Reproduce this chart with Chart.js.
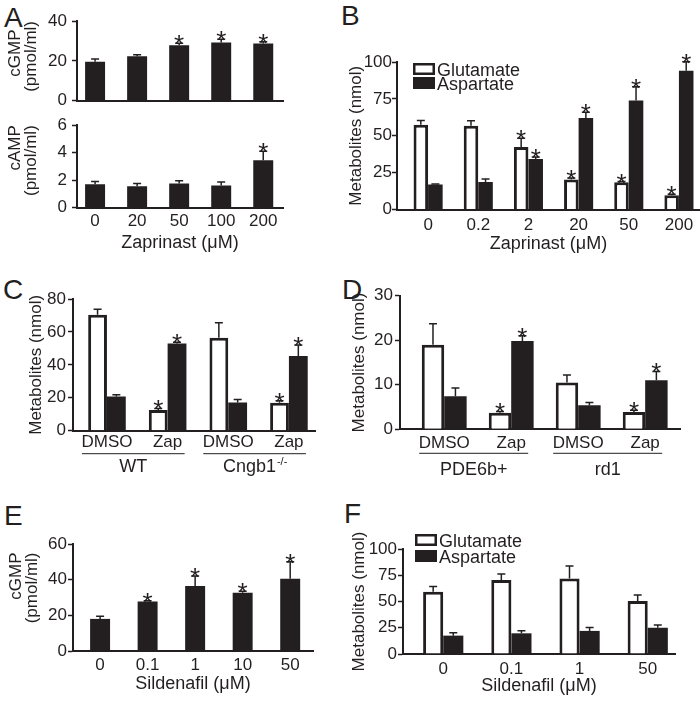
<!DOCTYPE html>
<html>
<head>
<meta charset="utf-8">
<script src="https://cdn.jsdelivr.net/npm/chart.js@4.4.1/dist/chart.umd.min.js"></script>
<style>
  html, body { margin: 0; padding: 0; background: #fff; }
  body { width: 700px; height: 703px; position: relative; overflow: hidden; font-family: "Liberation Sans", Arial, sans-serif; }
  canvas { position: absolute; }
  .lbl { position: absolute; font-size: 28px; line-height: 28px; color: #231f20; }
</style>
</head>
<body>
<div class="lbl" style="left:4px;top:4px">A</div>
<div class="lbl" style="left:341px;top:2px">B</div>
<div class="lbl" style="left:3px;top:276px">C</div>
<div class="lbl" style="left:342px;top:276px">D</div>
<div class="lbl" style="left:4px;top:502px">E</div>
<div class="lbl" style="left:344px;top:500px">F</div>

<canvas id="cgmpA" width="290" height="116" style="left:0;top:0"></canvas>
<canvas id="campA" width="290" height="145" style="left:0;top:110px"></canvas>
<canvas id="metB" width="360" height="215" style="left:340px;top:40px"></canvas>
<canvas id="metC" width="320" height="200" style="left:0;top:285px"></canvas>
<canvas id="metD" width="360" height="200" style="left:340px;top:280px"></canvas>
<canvas id="cgmpE" width="320" height="173" style="left:0;top:530px"></canvas>
<canvas id="metF" width="360" height="183" style="left:340px;top:520px"></canvas>

<script>
const ink = '#231f20';

// A: zaprinast, cGMP / cAMP
const doseA = ['0', '20', '50', '100', '200'];
const cgmpA = [19.6, 22.3, 27.9, 29.2, 28.7];
const cgmpErrA = [1.4, 0.8, 0.9, 1.6, 0.9];
const cgmpStarA = [0, 0, 1, 1, 1];
const campA = [1.7, 1.55, 1.75, 1.6, 3.45];
const campErrA = [0.2, 0.2, 0.2, 0.25, 0.65];
const campStarA = [0, 0, 0, 0, 1];

// B: zaprinast, metabolites
const doseB = ['0', '0.2', '2', '20', '50', '200'];
const gluB = [57.4, 56.8, 42.3, 20.3, 18.5, 9.7];
const gluErrB = [3, 3.3, 6, 1.1, 0.4, 0.7];
const gluStarB = [0, 0, 1, 1, 1, 1];
const aspB = [16.9, 18.7, 34.2, 62, 73.9, 94.1];
const aspErrB = [0.4, 2, 1.4, 4, 9.4, 6.1];
const aspStarB = [0, 0, 1, 1, 1, 1];

// C: WT vs Cngb1-/-
const treatC = ['DMSO', 'Zap', 'DMSO', 'Zap'];
const gluC = [70.5, 12.5, 56.5, 17];
const gluErrC = [3.2, 1, 9, 1.2];
const aspC = [20.8, 53, 17.2, 45.4];
const aspErrC = [1, 0.8, 1.8, 6.6];
const starC = [0, 1, 0, 1];

// D: PDE6b+ vs rd1
const treatD = ['DMSO', 'Zap', 'DMSO', 'Zap'];
const gluD = [19, 3.7, 10.5, 3.9];
const gluErrD = [4.7, 0.3, 1.7, 0.4];
const aspD = [7.4, 19.8, 5.4, 11];
const aspErrD = [1.9, 1.2, 0.6, 2];
const starD = [0, 1, 0, 1];

// E: sildenafil, cGMP
const doseE = ['0', '0.1', '1', '10', '50'];
const cgmpE = [18, 27.8, 36.4, 32.6, 40.5];
const cgmpErrE = [1.5, 0.4, 5.6, 0.9, 9.5];
const cgmpStarE = [0, 1, 1, 1, 1];

// F: sildenafil, metabolites
const doseF = ['0', '0.1', '1', '50'];
const gluF = [59.4, 70.5, 72, 50.5];
const gluErrF = [4.8, 5.7, 11.7, 5.7];
const aspF = [17.5, 19.7, 22, 25];
const aspErrF = [2.8, 2.5, 3.2, 2.6];
const noStar = [0, 0, 0, 0];

Chart.defaults.font.family = '"Liberation Sans", Arial, sans-serif';
Chart.defaults.font.size = 17;
Chart.defaults.color = ink;
Chart.defaults.animation = false;

const toPoints = (vals) => vals.map((v, i) => ({ x: i, y: v }));

const bars = (label, vals, errs, stars, open) => ({
  label: label,
  data: toPoints(vals),
  errors: errs,
  stars: stars,
  open: open,
  backgroundColor: open ? '#ffffff' : ink,
  borderColor: ink,
  borderWidth: open ? 3 : 0,
  barPercentage: 1
});

// error bars, asterisks, legend boxes and group labels
const decor = {
  id: 'decor',
  afterDatasetsDraw(chart, args, opts) {
    const { ctx, chartArea } = chart;
    const ys = chart.scales.y;
    const xs = chart.scales.x;
    ctx.save();
    chart.data.datasets.forEach((ds, di) => {
      chart.getDatasetMeta(di).data.forEach((bar, i) => {
        const top = ys.getPixelForValue(ds.data[i].y + ds.errors[i]);
        ctx.strokeStyle = ink;
        ctx.lineWidth = 1.5;
        ctx.beginPath();
        ctx.moveTo(bar.x, bar.y);
        ctx.lineTo(bar.x, top);
        ctx.moveTo(bar.x - 4, top);
        ctx.lineTo(bar.x + 4, top);
        ctx.stroke();
        if (ds.stars[i]) {
          ctx.fillStyle = ink;
          ctx.font = '26px "Liberation Sans", Arial, sans-serif';
          ctx.textAlign = 'center';
          ctx.textBaseline = 'alphabetic';
          ctx.fillText('*', bar.x, top + 10);
        }
      });
    });

    if (opts.legend) {
      const lg = opts.legend;
      chart.data.datasets.forEach((ds, k) => {
        const x = chartArea.left + lg.dx;
        const y = chartArea.top + lg.dy + k * lg.row;
        if (ds.open) {
          ctx.fillStyle = '#fff';
          ctx.fillRect(x, y, 22, 12);
          ctx.strokeStyle = ink;
          ctx.lineWidth = 2.5;
          ctx.strokeRect(x + 1.25, y + 1.25, 19.5, 9.5);
        } else {
          ctx.fillStyle = ink;
          ctx.fillRect(x, y, 22, 12);
        }
        ctx.fillStyle = ink;
        ctx.font = '18px "Liberation Sans", Arial, sans-serif';
        ctx.textAlign = 'left';
        ctx.textBaseline = 'alphabetic';
        ctx.fillText(ds.label, x + 24, y + 12.5);
      });
    }

    if (opts.groups) {
      opts.groups.forEach((g) => {
        const x1 = xs.getPixelForValue(g.from) - 25;
        const x2 = xs.getPixelForValue(g.to) + 17;
        const ly = chartArea.bottom + opts.lineDy;
        ctx.strokeStyle = ink;
        ctx.lineWidth = 1;
        ctx.beginPath();
        ctx.moveTo(x1, ly);
        ctx.lineTo(x2, ly);
        ctx.stroke();
        ctx.fillStyle = ink;
        ctx.textBaseline = 'alphabetic';
        ctx.textAlign = 'left';
        ctx.font = '18px "Liberation Sans", Arial, sans-serif';
        const w1 = ctx.measureText(g.name).width;
        ctx.font = '11px "Liberation Sans", Arial, sans-serif';
        const w2 = g.sup ? ctx.measureText(g.sup).width : 0;
        const sx = (x1 + x2) / 2 - (w1 + w2) / 2;
        const by = chartArea.bottom + opts.labelDy;
        ctx.font = '18px "Liberation Sans", Arial, sans-serif';
        ctx.fillText(g.name, sx, by);
        if (g.sup) {
          ctx.font = '11px "Liberation Sans", Arial, sans-serif';
          ctx.fillText(g.sup, sx + w1 + 1, by - 7);
        }
      });
    }
    ctx.restore();
  }
};

const makeChart = (id, p) => {
  const xScale = {
    type: 'linear',
    min: p.xMin,
    max: p.xMax,
    offset: false,
    z: 1,
    grid: { display: false, drawTicks: false, offset: false },
    border: { display: true, color: ink, width: 2 },
    afterBuildTicks: (s) => { s.ticks = p.labels.map((_, i) => ({ value: i })); },
    afterFit: (s) => { s.height = p.xAxisH; },
    ticks: {
      display: p.labels.length > 0 && p.showX !== false,
      autoSkip: false,
      maxRotation: 0,
      padding: p.xTickPad,
      font: { size: 17 },
      callback: (v) => p.labels[v]
    },
    title: {
      display: !!p.xTitle,
      text: p.xTitle || '',
      font: { size: 18, lineHeight: 1 },
      padding: { top: 0, bottom: p.xTitlePad || 0 }
    }
  };
  const yScale = {
    min: 0,
    max: p.yMax,
    grid: { display: true, drawOnChartArea: false, drawTicks: true, tickLength: 5, tickWidth: 1.5, tickColor: ink, color: ink },
    border: { display: true, color: ink, width: 2 },
    afterFit: (s) => { s.width = p.yAxisW; },
    ticks: { stepSize: p.yStep, padding: p.yTickPad, font: { size: 17 } },
    title: {
      display: true,
      text: p.yTitle,
      align: p.yTitleAlign || 'center',
      font: { size: 17, lineHeight: 0.95 },
      padding: { top: p.yTitlePad, bottom: 0 }
    }
  };
  return new Chart(document.getElementById(id), {
    type: 'bar',
    data: { datasets: p.datasets },
    options: {
      responsive: false,
      categoryPercentage: p.pct,
      layout: { padding: { top: p.padTop, right: p.padRight, left: 0, bottom: 0 } },
      plugins: {
        legend: { display: false },
        tooltip: { enabled: false },
        decor: p.decor || {}
      },
      scales: { x: xScale, y: yScale }
    },
    plugins: [decor]
  });
};

makeChart('cgmpA', {
  labels: doseA, showX: false,
  datasets: [bars('cGMP', cgmpA, cgmpErrA, cgmpStarA, false)],
  xMin: -0.43, xMax: 4.47, pct: 0.475,
  yMax: 40, yStep: 20, yAxisW: 77, xAxisH: 12, padTop: 21, padRight: 7,
  yTitle: ['cGMP\u2002', '(pmol/ml)'], yTitleAlign: 'end', yTitlePad: 7, yTickPad: 5
});

makeChart('campA', {
  labels: doseA,
  datasets: [bars('cAMP', campA, campErrA, campStarA, false)],
  xMin: -0.43, xMax: 4.47, pct: 0.475,
  yMax: 6, yStep: 2, yAxisW: 77, xAxisH: 47.5, padTop: 12, padRight: 7,
  yTitle: ['cAMP', '(pmol/ml)'], yTitleAlign: 'end', yTitlePad: 7, yTickPad: 5,
  xTickPad: 3.3, xTitle: 'Zaprinast (μM)', xTitlePad: 3
});

makeChart('metB', {
  labels: doseB,
  datasets: [
    bars('Glutamate', gluB, gluErrB, gluStarB, true),
    bars('Aspartate', aspB, aspErrB, aspStarB, false)
  ],
  xMin: -0.62, xMax: 5.42, pct: 0.58,
  yMax: 100, yStep: 25, yAxisW: 57, xAxisH: 45.5, padTop: 22, padRight: 0,
  yTitle: 'Metabolites (nmol)', yTitlePad: 8.5, yTickPad: 0,
  xTickPad: 5.3, xTitle: 'Zaprinast (μM)', xTitlePad: 2,
  decor: { legend: { dx: 16, dy: 1, row: 14 } }
});

makeChart('metC', {
  labels: treatC,
  datasets: [
    bars('Glutamate', gluC, gluErrC, starC, true),
    bars('Aspartate', aspC, aspErrC, starC, false)
  ],
  xMin: -0.56, xMax: 3.43, pct: 0.62,
  yMax: 80, yStep: 20, yAxisW: 73, xAxisH: 54.3, padTop: 14, padRight: 5,
  yTitle: 'Metabolites (nmol)', yTitlePad: 28.5, yTickPad: 2,
  xTickPad: 1.6,
  decor: {
    lineDy: 23, labelDy: 41.5,
    groups: [{ name: 'WT', from: 0, to: 1 }, { name: 'Cngb1', sup: '-/-', from: 2, to: 3 }]
  }
});

makeChart('metD', {
  labels: treatD,
  datasets: [
    bars('Glutamate', gluD, gluErrD, starD, true),
    bars('Aspartate', aspD, aspErrD, starD, false)
  ],
  xMin: -0.66, xMax: 3.52, pct: 0.67,
  yMax: 30, yStep: 10, yAxisW: 60, xAxisH: 50.7, padTop: 15.7, padRight: 20,
  yTitle: 'Metabolites (nmol)', yTitlePad: 11.5, yTickPad: 2,
  xTickPad: 3.5,
  decor: {
    lineDy: 24, labelDy: 45.5,
    groups: [{ name: 'PDE6b+', from: 0, to: 1 }, { name: 'rd1', from: 2, to: 3 }]
  }
});

makeChart('cgmpE', {
  labels: doseE,
  datasets: [bars('cGMP', cgmpE, cgmpErrE, cgmpStarE, false)],
  xMin: -0.57, xMax: 4.48, pct: 0.42,
  yMax: 60, yStep: 20, yAxisW: 73, xAxisH: 52, padTop: 14, padRight: 7,
  yTitle: ['cGMP\u2002', '(pmol/ml)\u2002'], yTitleAlign: 'end', yTitlePad: 8, yTickPad: 1,
  xTickPad: 3.8, xTitle: 'Sildenafil (μM)', xTitlePad: 9.5
});

makeChart('metF', {
  labels: doseF,
  datasets: [
    bars('Glutamate', gluF, gluErrF, noStar, true),
    bars('Aspartate', aspF, aspErrF, noStar, false)
  ],
  xMin: -0.59, xMax: 3.4, pct: 0.59,
  yMax: 100, yStep: 25, yAxisW: 63, xAxisH: 49, padTop: 29, padRight: 25,
  yTitle: 'Metabolites (nmol)', yTitlePad: 11.5, yTickPad: 1,
  xTickPad: 4.8, xTitle: 'Sildenafil (μM)', xTitlePad: 7.5,
  decor: { legend: { dx: 12, dy: -15, row: 16 } }
});
</script>
</body>
</html>
